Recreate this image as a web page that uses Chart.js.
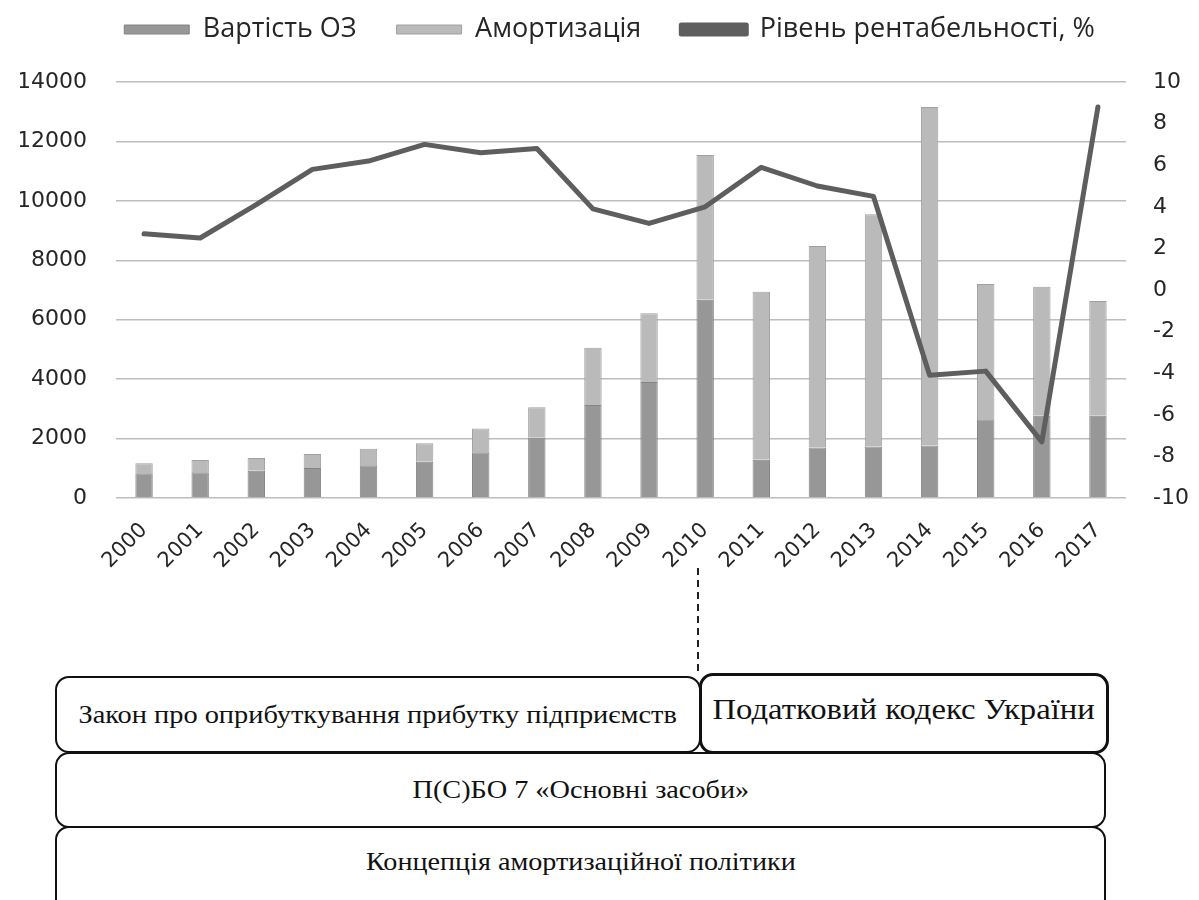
<!DOCTYPE html>
<html><head><meta charset="utf-8">
<script src="https://cdn.jsdelivr.net/npm/chart.js@4.4.1/dist/chart.umd.min.js"></script>
<style>
html,body{margin:0;padding:0;background:#fff;width:1199px;height:900px;overflow:hidden;position:relative}
#wrap{position:absolute;left:0;top:0;width:1199px;height:600px}
.box{position:absolute;box-sizing:border-box;border:2px solid #111;border-radius:14px;background:#fff;font-family:'Liberation Serif','Times New Roman',serif;color:#111;display:flex;justify-content:center;white-space:nowrap}
.box span{display:inline-block;transform-origin:center center;line-height:30px}
#dash{position:absolute;left:697px;top:568px;width:2px;height:106px;background:repeating-linear-gradient(to bottom,#222 0,#222 7px,transparent 7px,transparent 12px)}
</style></head>
<body>
<div id="wrap"><canvas id="c" width="1199" height="600"></canvas></div>
<div id="dash"></div>
<div class="box" style="left:55px;top:676px;width:646px;height:77px;align-items:center"><span data-w="598" style="font-size:25px">Закон про оприбуткування прибутку підприємств</span></div>
<div class="box" style="left:699px;top:673px;width:410px;height:81px;border-width:3px;align-items:flex-start;padding-top:18px"><span data-w="382" style="font-size:29px">Податковий кодекс України</span></div>
<div class="box" style="left:55px;top:752px;width:1051px;height:76px;align-items:center"><span data-w="337" style="font-size:25px">П(С)БО 7 «Основні засоби»</span></div>
<div class="box" style="left:55px;top:826px;width:1051px;height:120px;align-items:flex-start;padding-top:19px"><span data-w="430" style="font-size:25px">Концепція амортизаційної політики</span></div>
<script>
const years = ['2000','2001','2002','2003','2004','2005','2006','2007','2008','2009','2010','2011','2012','2013','2014','2015','2016','2017'];
const fixedAssetValue = [830,870,920,1010,1100,1220,1540,2030,3130,3900,6670,1290,1700,1730,1770,2650,2770,2770];
const depreciation = [340,410,430,470,560,620,800,1020,1930,2320,4870,5650,6780,7820,11390,4550,4340,3860];
const profitability = [2.7,2.5,4.1,5.8,6.2,7.0,6.6,6.8,3.9,3.2,4.0,5.9,5.0,4.5,-4.1,-3.9,-7.3,8.8];
const seriesNames = ['Вартість ОЗ','Амортизація','Рівень рентабельності, %'];

const legendHeight = {
  id:'legendHeight',
  beforeInit(chart){
    const fit = chart.legend.fit;
    chart.legend.fit = function(){ fit.call(this); this.height = 106; };
  }
};
const tickFont = {family:'DejaVu Sans', size:22};
const plain = v => String(v);

new Chart(document.getElementById('c'), {
  type:'bar',
  data:{
    labels: years,
    datasets:[
      {label:seriesNames[0], data:fixedAssetValue, backgroundColor:'#979797', borderColor:'#848484', borderWidth:1, stack:'s', yAxisID:'y', order:1, barPercentage:0.31, categoryPercentage:1},
      {label:seriesNames[1], data:depreciation, backgroundColor:'#bababa', borderColor:'#a0a0a0', borderWidth:1, stack:'s', yAxisID:'y', order:1, barPercentage:0.31, categoryPercentage:1},
      {label:seriesNames[2], type:'line', data:profitability, borderColor:'#5e5e5e', backgroundColor:'#5e5e5e', borderWidth:5, pointRadius:0, tension:0, fill:false, borderJoinStyle:'round', borderCapStyle:'round', yAxisID:'y1', order:0}
    ]
  },
  options:{
    responsive:false, animation:false,
    layout:{padding:{top:-24,left:20,right:0,bottom:0}},
    plugins:{
      legend:{position:'top', labels:{boxWidth:65, boxHeight:9, padding:40, color:'#262626', font:{family:'Open Sans', size:27}, sort:(a,b)=>a.datasetIndex-b.datasetIndex}},
      tooltip:{enabled:false}
    },
    scales:{
      x:{stacked:true, grid:{display:false}, border:{display:false},
         ticks:{autoSkip:false, maxRotation:45, minRotation:45, padding:12, color:'#262626', font:{family:'DejaVu Sans', size:21}},
         afterFit(s){ s.height = 102; }},
      y:{stacked:true, position:'left', min:0, max:14000,
         ticks:{stepSize:2000, padding:29, color:'#262626', font:tickFont, callback:plain},
         grid:{color:'#bdbdbd', lineWidth:1.5, drawTicks:false}, border:{display:false},
         afterFit(s){ s.width = 96; }},
      y1:{position:'right', min:-10, max:10,
         ticks:{stepSize:2, padding:27, color:'#262626', font:tickFont, callback:plain},
         grid:{display:false, drawTicks:false}, border:{display:false},
         afterFit(s){ s.width = 73; }}
    }
  },
  plugins:[legendHeight]
});

document.fonts.ready.then(()=>{
  document.querySelectorAll('.box span').forEach(sp=>{
    const w = +sp.dataset.w; const k = w / sp.offsetWidth;
    sp.style.transform = 'scaleX(' + k.toFixed(3) + ')';
  });
});
</script>
</body></html>
